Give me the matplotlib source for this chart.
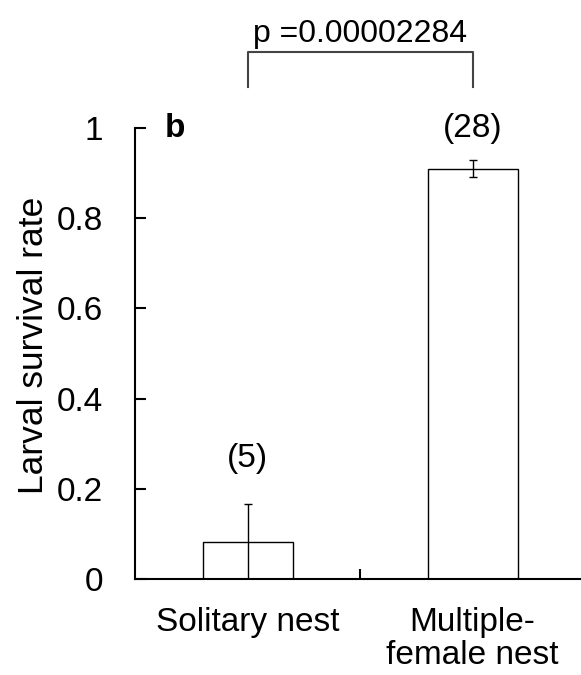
import matplotlib
matplotlib.use("Agg")
import matplotlib.pyplot as plt
import numpy as np

plt.rcParams['font.family'] = ['Liberation Sans', 'DejaVu Sans']

categories = ["Solitary nest", "Multiple-\nfemale nest"]
survival = [0.082, 0.910]
err_low = [0.082, 0.019]
err_high = [0.085, 0.019]
sample_sizes = ["(5)", "(28)"]
p_label = "p =0.00002284"
yticks = [0, 0.2, 0.4, 0.6, 0.8, 1.0]
ytick_labels = ["0", "0.2", "0.4", "0.6", "0.8", "1"]

FS = 24

fig = plt.figure(figsize=(5.81, 6.75), dpi=100)
ax = fig.add_axes([0.2324, 0.1422, 0.7745, 0.6681])

x = np.arange(len(categories)) + 0.5
ax.bar(x, survival, width=0.4, color='white', edgecolor='black', linewidth=1.0, zorder=2)
ax.errorbar(x, survival, yerr=[err_low, err_high], fmt='none', ecolor='black',
            elinewidth=1.0, capsize=3, capthick=1.0, zorder=3)

ax.set_xlim(0, 2)
ax.set_ylim(0, 1)
ax.spines['top'].set_visible(False)
ax.spines['right'].set_visible(False)
ax.spines['left'].set_linewidth(1.5)
ax.spines['bottom'].set_linewidth(1.5)

ax.set_yticks(yticks)
ax.set_yticklabels(ytick_labels, fontsize=FS)
ax.tick_params(axis='y', direction='in', length=8, width=1.5, pad=23)

ax.set_xticks(x)
ax.set_xticklabels(categories, fontsize=FS, linespacing=1.1)
ax.tick_params(axis='x', which='major', length=0, pad=20)
ax.set_xticks([1.0], minor=True)
ax.tick_params(axis='x', which='minor', direction='in', length=7, width=1.5)

ax.set_ylabel("Larval survival rate", fontsize=25.5)
ax.yaxis.set_label_coords(-0.189, 0.519)

# sample sizes above bars
ax.text(x[0], 0.268, sample_sizes[0], ha='center', va='center', fontsize=FS)
ax.text(x[1], 1.0, sample_sizes[1], ha='center', va='center', fontsize=FS, clip_on=False)

# panel letter
ax.text(0.133, 0.98, "b", ha='left', va='baseline', fontsize=FS, fontweight='bold', clip_on=False)

# significance bracket
ax.plot([x[0], x[0], x[1], x[1]], [1.091, 1.168, 1.168, 1.091], color='#444444',
        linewidth=1.5, clip_on=False)
ax.text(1.0, 1.19, p_label, ha='center', va='baseline', fontsize=23, clip_on=False)

fig.savefig("out.png", dpi=100)
